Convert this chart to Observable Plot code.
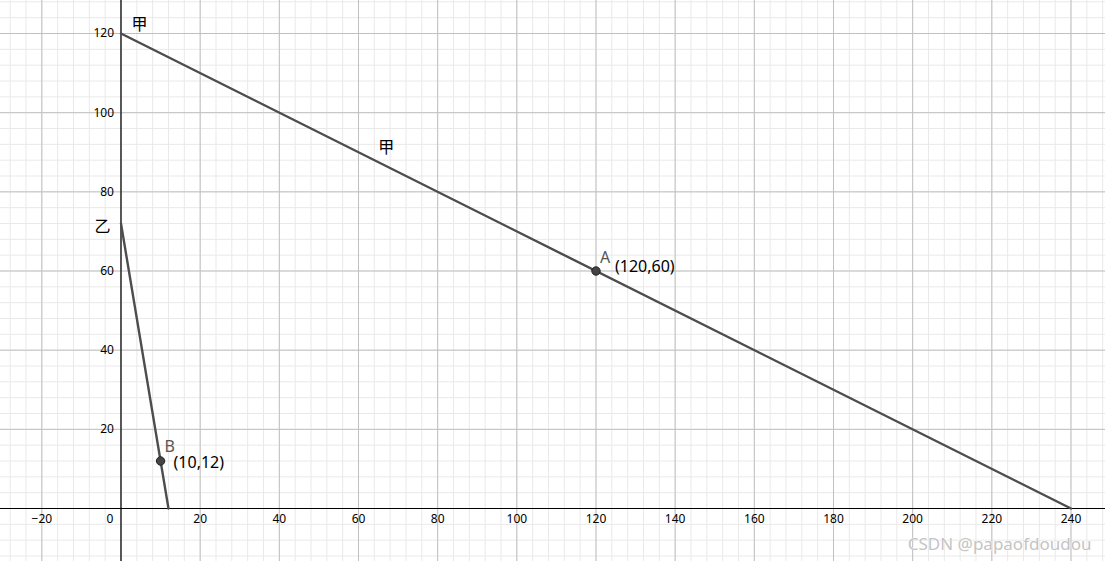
<!DOCTYPE html>
<html>
<head>
<meta charset="utf-8">
<script src="https://cdn.jsdelivr.net/npm/d3@7"></script>
<script src="https://cdn.jsdelivr.net/npm/@observablehq/plot@0.6"></script>
<style>
  html, body { margin: 0; padding: 0; background: #fff; }
  svg { display: block; }
</style>
</head>
<body>
<div id="chart"></div>
<script>
// ---- data ----
const lineJia = [ {x: 0, y: 120}, {x: 240, y: 0} ];        // 甲
const lineYi  = [ {x: 0, y: 72},  {x: 12,  y: 0} ];        // 乙
const pointA  = [ {x: 120, y: 60, name: "A", label: "(120,60)"} ];
const pointB  = [ {x: 10,  y: 12, name: "B", label: "(10,12)"} ];
const curveLabels = [
  {x: 4.7,  y: 122.3, text: "甲"},
  {x: 67.0, y: 91.0,  text: "甲"},
  {x: -4.7, y: 71.2,  text: "乙"}
];
const xTickLabels = [-20, 20, 40, 60, 80, 100, 120, 140, 160, 180, 200, 220, 240];
const yTickLabels = [20, 40, 60, 80, 100, 120];

const xDomain = [-30.44, 248.72];
const yDomain = [-13.39, 128.34];
const minorX = d3.range(-28, 249, 4);
const minorY = d3.range(-12, 129, 4);
const majorX = d3.range(-20, 249, 20);
const majorY = d3.range(-0, 129, 20);

const fmt = v => v < 0 ? "\u2212" + Math.abs(v) : String(v);

const chart = Plot.plot({
  width: 1105,
  height: 561,
  margin: 0,
  x: {type: "linear", domain: xDomain, axis: null},
  y: {type: "linear", domain: yDomain, axis: null},
  style: {fontFamily: "'Noto Sans', 'Noto Sans CJK SC', sans-serif", background: "#fff"},
  marks: [
    Plot.ruleX(minorX, {stroke: "#e9e9e9", strokeWidth: 1}),
    Plot.ruleY(minorY, {stroke: "#e9e9e9", strokeWidth: 1}),
    Plot.ruleX(majorX, {stroke: "#c0c0c0", strokeWidth: 1}),
    Plot.ruleY(majorY, {stroke: "#c0c0c0", strokeWidth: 1}),
    Plot.ruleX([0], {stroke: "#000", strokeWidth: 1.2}),
    Plot.ruleY([0], {stroke: "#000", strokeWidth: 1.2}),
    // tick labels
    Plot.text(xTickLabels, {x: d => d, y: d => 0, text: fmt, dy: 11, fontSize: 12, fill: "#000"}),
    Plot.text([0], {x: d => 0, y: d => 0, text: d => "0", dx: -11, dy: 11, fontSize: 12, fill: "#000"}),
    Plot.text(yTickLabels, {x: d => 0, y: d => d, text: fmt, dx: -7, textAnchor: "end", fontSize: 12, fill: "#000"}),
    // lines
    Plot.line(lineJia, {x: "x", y: "y", stroke: "#4d4d4d", strokeWidth: 2.4}),
    Plot.line(lineYi,  {x: "x", y: "y", stroke: "#4d4d4d", strokeWidth: 2.4}),
    // points
    Plot.dot(pointA, {x: "x", y: "y", r: 4.2, fill: "#444", stroke: "#222", strokeWidth: 1}),
    Plot.dot(pointB, {x: "x", y: "y", r: 4.2, fill: "#444", stroke: "#222", strokeWidth: 1}),
    Plot.text(pointA, {x: "x", y: "y", text: "name", dx: 4, dy: -13, textAnchor: "start", fontSize: 16, fill: "#555"}),
    Plot.text(pointB, {x: "x", y: "y", text: "name", dx: 4, dy: -14, textAnchor: "start", fontSize: 16, fill: "#555"}),
    Plot.text(pointA, {x: "x", y: "y", text: "label", dx: 19, dy: -4, textAnchor: "start", fontSize: 16, fill: "#000"}),
    Plot.text(pointB, {x: "x", y: "y", text: "label", dx: 13, dy: 2, textAnchor: "start", fontSize: 16, fill: "#000"}),
    // curve labels
    Plot.text(curveLabels, {x: "x", y: "y", text: "text", fontSize: 16, fill: "#000"}),
    // watermark
    Plot.text(["CSDN @papaofdoudou"], {frameAnchor: "bottom-right", text: d => d, dx: -14, dy: -12, fontSize: 17, fill: "#c4c4c4", stroke: "#fff", strokeWidth: 0.8})
  ]
});
document.getElementById("chart").appendChild(chart);
</script>
</body>
</html>
